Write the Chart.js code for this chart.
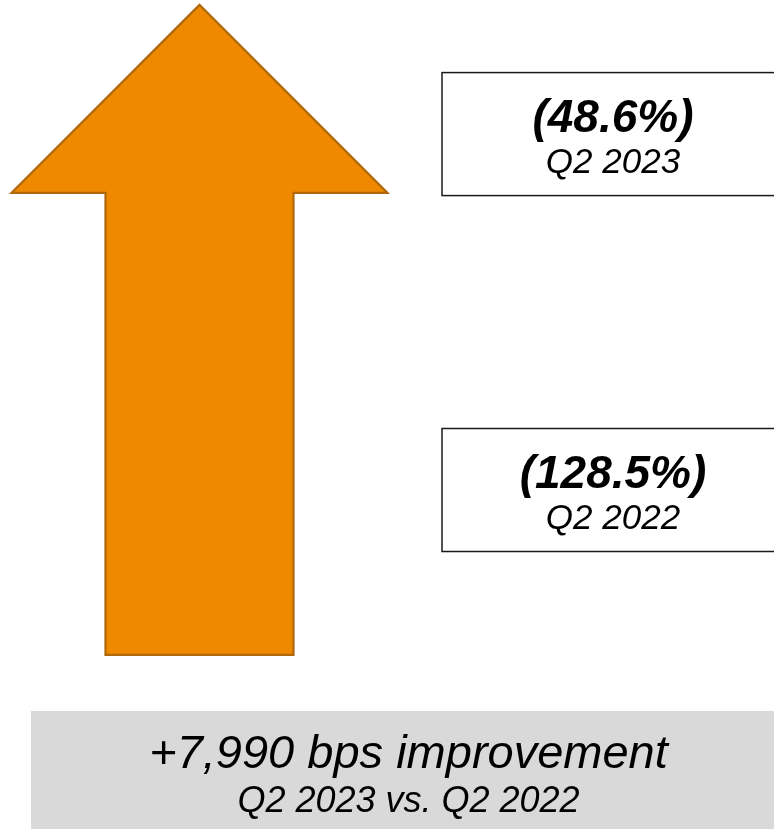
<!DOCTYPE html>
<html>
<head>
<meta charset="utf-8">
<style>
  html, body { margin: 0; padding: 0; background: #ffffff; overflow: hidden; }
  canvas { display: block; }
</style>
</head>
<body>
<canvas id="marginChart" width="774" height="829"></canvas>

<script src="https://cdn.jsdelivr.net/npm/chart.js"></script>
<script>
// Data
const periods = ['Q2 2023', 'Q2 2022'];
const marginValues = [-48.6, -128.5];   // percent, shown in parentheses
const improvementBps = 7990;

// Layout (value units on the hidden axes)
const arrow = { x: 199.5, base: -165.5, headBase: -61.8, tip: -19.6, shaftWidth: 188, headHalf: 188 };
const FONT = '"Liberation Sans", Arial, Helvetica, sans-serif';
const ORANGE = '#ef8a00';
const ORANGE_EDGE = '#b0680a';

function fmtPct(v) {
  const s = Math.abs(v).toFixed(1) + '%';
  return v < 0 ? '(' + s + ')' : s;
}

// Arrow head + outline, value boxes and the summary banner
const infoPlugin = {
  id: 'infoPlugin',
  afterDatasetsDraw(chart) {
    const ctx = chart.ctx;
    const xs = chart.scales.x;
    const ys = chart.scales.y;
    const bar = chart.getDatasetMeta(0).data[0];

    // arrow
    const cx = bar.x;
    const half = bar.width / 2;
    const headHalf = xs.getPixelForValue(arrow.x + arrow.headHalf) - xs.getPixelForValue(arrow.x);
    const headY = Math.min(bar.y, bar.base);
    const baseY = Math.max(bar.y, bar.base);
    const tipY = ys.getPixelForValue(arrow.tip);
    ctx.save();
    ctx.beginPath();
    ctx.moveTo(cx - half, baseY);
    ctx.lineTo(cx - half, headY);
    ctx.lineTo(cx - headHalf, headY);
    ctx.lineTo(cx, tipY);
    ctx.lineTo(cx + headHalf, headY);
    ctx.lineTo(cx + half, headY);
    ctx.lineTo(cx + half, baseY);
    ctx.closePath();
    ctx.fillStyle = ORANGE;
    ctx.fill();
    ctx.lineWidth = 2.2;
    ctx.lineJoin = 'miter';
    ctx.strokeStyle = ORANGE_EDGE;
    ctx.stroke();
    ctx.restore();

    // value boxes
    const boxLeft = xs.getPixelForValue(442);
    const boxRight = xs.getPixelForValue(784);
    const boxH = 123;
    const textX = (boxLeft + boxRight) / 2;
    ctx.save();
    marginValues.forEach((v, i) => {
      const y = ys.getPixelForValue(v);
      ctx.fillStyle = '#ffffff';
      ctx.fillRect(boxLeft, y - boxH / 2, boxRight - boxLeft, boxH);
      ctx.lineWidth = 1.5;
      ctx.strokeStyle = '#1a1a1a';
      ctx.strokeRect(boxLeft, y - boxH / 2, boxRight - boxLeft, boxH);

      ctx.fillStyle = '#000000';
      ctx.textAlign = 'center';
      ctx.textBaseline = 'alphabetic';
      ctx.font = 'italic bold 46px ' + FONT;
      ctx.fillText(fmtPct(v), textX, y - 2);
      ctx.font = 'italic 35px ' + FONT;
      ctx.fillText(periods[i], textX, y + 39);
    });
    ctx.restore();

    // summary banner
    const bLeft = xs.getPixelForValue(31);
    const bRight = xs.getPixelForValue(786);
    const bTop = 711;
    ctx.save();
    ctx.fillStyle = '#d9d9d9';
    ctx.fillRect(bLeft, bTop, bRight - bLeft, chart.height - bTop + 2);
    ctx.fillStyle = '#000000';
    ctx.textAlign = 'center';
    ctx.textBaseline = 'alphabetic';
    const bx = (bLeft + bRight) / 2;
    ctx.font = 'italic 47px ' + FONT;
    ctx.fillText('+' + improvementBps.toLocaleString('en-US') + ' bps improvement', bx, bTop + 57);
    ctx.font = 'italic 36px ' + FONT;
    ctx.fillText(periods[0] + ' vs. ' + periods[1], bx, bTop + 101);
    ctx.restore();
  }
};

new Chart(document.getElementById('marginChart').getContext('2d'), {
  type: 'bar',
  data: {
    datasets: [{
      label: 'Change',
      data: [{ x: arrow.x, y: [arrow.base, arrow.headBase] }],
      backgroundColor: ORANGE,
      borderWidth: 0,
      barThickness: arrow.shaftWidth
    }]
  },
  options: {
    responsive: false,
    animation: false,
    layout: { padding: 0 },
    scales: {
      x: { type: 'linear', display: false, offset: false, min: 0, max: 774 },
      y: { type: 'linear', display: false, min: -204.6, max: -18.5 }
    },
    plugins: {
      legend: { display: false },
      tooltip: { enabled: false }
    }
  },
  plugins: [infoPlugin]
});
</script>
</body>
</html>
